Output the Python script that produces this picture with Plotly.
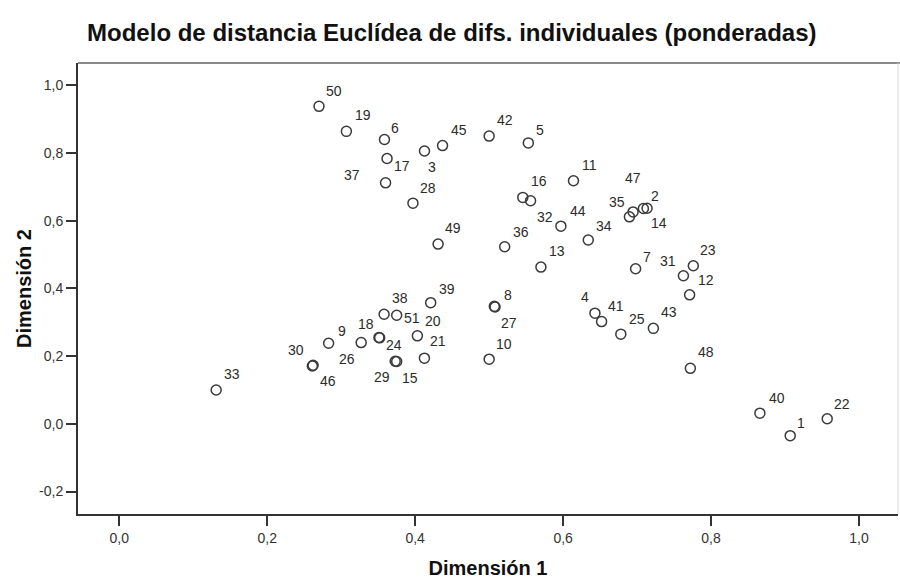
import plotly.graph_objects as go

# Stimulus coordinates in the common (weighted) space
labels = [str(i) for i in range(1, 52)]
dim1 = [0.907, 0.7085, 0.4126, 0.643, 0.553, 0.3585, 0.698, 0.507, 0.283, 0.500,
        0.614, 0.771, 0.570, 0.7135, 0.375, 0.5455, 0.362, 0.351, 0.307, 0.403,
        0.4125, 0.957, 0.776, 0.352, 0.678, 0.327, 0.508, 0.397, 0.373, 0.261,
        0.7626, 0.556, 0.131, 0.634, 0.6896, 0.521, 0.360, 0.358, 0.421, 0.866,
        0.652, 0.500, 0.722, 0.597, 0.437, 0.262, 0.6946, 0.772, 0.431, 0.270,
        0.375]
dim2 = [-0.035, 0.636, 0.806, 0.327, 0.830, 0.840, 0.458, 0.347, 0.238, 0.191,
        0.718, 0.381, 0.463, 0.637, 0.184, 0.669, 0.784, 0.255, 0.864, 0.260,
        0.194, 0.015, 0.467, 0.254, 0.265, 0.240, 0.345, 0.652, 0.185, 0.171,
        0.4375, 0.659, 0.100, 0.543, 0.6115, 0.523, 0.712, 0.3236, 0.358, 0.0315,
        0.302, 0.850, 0.282, 0.584, 0.822, 0.173, 0.626, 0.164, 0.531, 0.938,
        0.3207]

x_ticks = [0.0, 0.2, 0.4, 0.6, 0.8, 1.0]
y_ticks = [-0.2, 0.0, 0.2, 0.4, 0.6, 0.8, 1.0]


def comma_label(v):
    # decimal comma, plain hyphen for negatives
    return f"{v:.1f}".replace(".", ",")


# Label placement around each marker (pixels, right / down)
label_offsets = {
    "1": (11, -13), "2": (12, -13), "3": (8, 16), "4": (-10, -16), "5": (12, -13),
    "6": (11, -12), "7": (11, -12), "8": (14, -11), "9": (13, -12), "10": (15, -15),
    "11": (16, -16), "12": (16, -15), "13": (16, -16), "14": (12, 15), "15": (13, 16),
    "16": (16, -16), "17": (15, 8), "18": (-13, -14), "19": (17, -16), "20": (16, -15),
    "21": (14, -17), "22": (15, -15), "23": (15, -16), "24": (14, 7), "25": (16, -15),
    "26": (-14, 16), "27": (14, 16), "28": (15, -15), "29": (-13, 16), "30": (-16, -16),
    "31": (-15, -15), "32": (14, 16), "33": (16, -16), "34": (16, -14), "35": (-12, -15),
    "36": (16, -15), "37": (-34, -8), "38": (16, -16), "39": (16, -14), "40": (17, -15),
    "41": (14, -16), "42": (16, -16), "43": (16, -16), "44": (17, -15), "45": (16, -16),
    "46": (15, 16), "47": (0, -34), "48": (16, -16), "49": (15, -16), "50": (15, -15),
    "51": (15, 3),
}

font_family = "Liberation Sans, Arial, sans-serif"
ink = "#333333"

fig = go.Figure()
fig.add_trace(go.Scatter(
    x=dim1, y=dim2, mode="markers",
    marker=dict(symbol="circle-open", size=10, color="#3a3a3a", line=dict(width=1.5)),
    hoverinfo="text", text=labels, showlegend=False,
))

for lab, xv, yv in zip(labels, dim1, dim2):
    dx, dy = label_offsets[lab]
    fig.add_annotation(
        x=xv, y=yv, text=lab, showarrow=False,
        xshift=dx, yshift=-dy,
        font=dict(family=font_family, size=14, color="#2b2b2b"),
    )

# Light frame on the top and right sides
fig.add_shape(type="line", xref="paper", yref="paper", x0=0, x1=1.01, y0=1, y1=1,
              line=dict(color="#8a8a8a", width=2))
fig.add_shape(type="line", xref="paper", yref="paper", x0=1, x1=1, y0=0, y1=1,
              line=dict(color="#d8d8d8", width=1))

fig.update_layout(
    width=900, height=579,
    margin=dict(l=78, r=2, t=63, b=65),
    paper_bgcolor="white", plot_bgcolor="white",
    title=dict(
        text="Modelo de distancia Euclídea de difs. individuales (ponderadas)",
        x=0.502, xanchor="center", y=0.943, yanchor="middle",
        font=dict(family=font_family, size=24, color="#111111", weight="bold"),
    ),
    xaxis=dict(
        range=[-0.0558, 1.0527], tickvals=x_ticks,
        ticktext=[comma_label(v) for v in x_ticks],
        showgrid=False, zeroline=False,
        showline=True, linecolor=ink, linewidth=2,
        ticks="outside", ticklen=10, tickwidth=2, tickcolor=ink,
        tickfont=dict(family=font_family, size=14, color=ink),
        title=dict(text="Dimensión 1", standoff=16,
                   font=dict(family=font_family, size=20, color="#111111", weight="bold")),
    ),
    yaxis=dict(
        range=[-0.2664, 1.066], tickvals=y_ticks,
        ticktext=[comma_label(v) for v in y_ticks],
        showgrid=False, zeroline=False,
        showline=True, linecolor=ink, linewidth=2,
        ticks="outside", ticklen=10, tickwidth=2, tickcolor=ink,
        tickfont=dict(family=font_family, size=14, color=ink),
        title=dict(text="Dimensión 2", standoff=2,
                   font=dict(family=font_family, size=20, color="#111111", weight="bold")),
    ),
)

fig.write_html("out.html")
